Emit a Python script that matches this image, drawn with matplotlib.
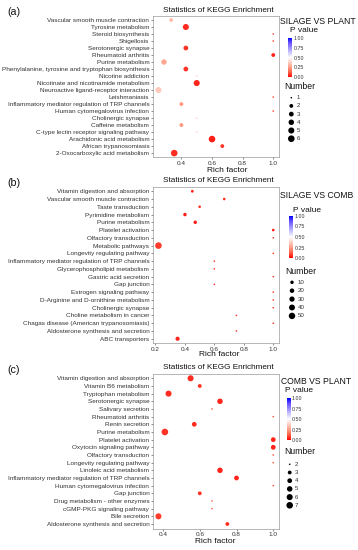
import numpy as np
import matplotlib
matplotlib.use("Agg")
import matplotlib.pyplot as plt
from matplotlib.colors import LinearSegmentedColormap, Normalize
from matplotlib.cm import ScalarMappable

plt.rcParams["font.family"] = ["Liberation Sans", "DejaVu Sans"]

W, H = 358, 550

# (a) SILAGE VS PLANT
A_TERMS = [
	"Vascular smooth muscle contraction",
	"Tyrosine metabolism",
	"Steroid biosynthesis",
	"Shigellosis",
	"Serotonergic synapse",
	"Rheumatoid arthritis",
	"Purine metabolism",
	"Phenylalanine, tyrosine and tryptophan biosynthesis",
	"Nicotine addiction",
	"Nicotinate and nicotinamide metabolism",
	"Neuroactive ligand-receptor interaction",
	"Leishmaniasis",
	"Inflammatory mediator regulation of TRP channels",
	"Human cytomegalovirus infection",
	"Cholinergic synapse",
	"Caffeine metabolism",
	"C-type lectin receptor signaling pathway",
	"Arachidonic acid metabolism",
	"African trypanosomiasis",
	"2-Oxocarboxylic acid metabolism",
]
A_RICH = [0.333, 0.429, 1.0, 1.0, 0.429, 1.0, 0.286, 0.429, 0.5, 0.5,
	0.25, 1.0, 0.4, 1.0, 0.5, 0.4, 0.5, 0.6, 0.667, 0.353]
A_NUM = [2, 5, 1, 1, 3, 2, 4, 3, 1, 5, 5, 1, 2, 1, 1, 2, 1, 6, 2, 6]
A_PVAL = [0.33, 0.06, 0.08, 0.08, 0.07, 0.05, 0.28, 0.07, 0.38, 0.05,
	0.36, 0.08, 0.24, 0.08, 0.38, 0.24, 0.38, 0.04, 0.07, 0.06]
A_SIZE_BREAKS = [1, 2, 3, 4, 5, 6]

# (b) SILAGE VS COMB
B_TERMS = [
	"Vitamin digestion and absorption",
	"Vascular smooth muscle contraction",
	"Taste transduction",
	"Pyrimidine metabolism",
	"Purine metabolism",
	"Platelet activation",
	"Olfactory transduction",
	"Metabolic pathways",
	"Longevity regulating pathway",
	"Inflammatory mediator regulation of TRP channels",
	"Glycerophospholipid metabolism",
	"Gastric acid secretion",
	"Gap junction",
	"Estrogen signaling pathway",
	"D-Arginine and D-ornithine metabolism",
	"Cholinergic synapse",
	"Choline metabolism in cancer",
	"Chagas disease (American trypanosomiasis)",
	"Aldosterone synthesis and secretion",
	"ABC transporters",
]
B_RICH = [0.45, 0.667, 0.5, 0.4, 0.47, 1.0, 1.0, 0.22, 1.0, 0.6,
	0.6, 1.0, 0.6, 1.0, 1.0, 1.0, 0.75, 1.0, 0.75, 0.35]
B_NUM = [6, 5, 5, 10, 10, 5, 3, 53, 3, 3, 3, 3, 3, 3, 3, 3, 3, 3, 3, 16]
B_PVAL = [0.05, 0.06, 0.06, 0.04, 0.04, 0.03, 0.06, 0.08, 0.06, 0.06,
	0.06, 0.06, 0.06, 0.06, 0.06, 0.06, 0.06, 0.06, 0.06, 0.05]
B_SIZE_BREAKS = [10, 20, 30, 40, 50]

# (c) COMB VS PLANT
C_TERMS = [
	"Vitamin digestion and absorption",
	"Vitamin B6 metabolism",
	"Tryptophan metabolism",
	"Serotonergic synapse",
	"Salivary secretion",
	"Rheumatoid arthritis",
	"Renin secretion",
	"Purine metabolism",
	"Platelet activation",
	"Oxytocin signaling pathway",
	"Olfactory transduction",
	"Longevity regulating pathway",
	"Linoleic acid metabolism",
	"Inflammatory mediator regulation of TRP channels",
	"Human cytomegalovirus infection",
	"Gap junction",
	"Drug metabolism - other enzymes",
	"cGMP-PKG signaling pathway",
	"Bile secretion",
	"Aldosterone synthesis and secretion",
]
C_RICH = [0.55, 0.6, 0.43, 0.71, 0.667, 1.0, 0.57, 0.41, 1.0, 1.0,
	1.0, 1.0, 0.71, 0.8, 1.0, 0.6, 0.667, 0.667, 0.375, 0.75]
C_NUM = [6, 3, 6, 5, 2, 2, 4, 7, 4, 4, 2, 2, 5, 4, 2, 3, 2, 2, 6, 3]
C_PVAL = [0.06, 0.07, 0.06, 0.05, 0.12, 0.1, 0.06, 0.07, 0.05, 0.05,
	0.1, 0.1, 0.05, 0.05, 0.1, 0.07, 0.12, 0.12, 0.08, 0.06]
C_SIZE_BREAKS = [2, 3, 4, 5, 6, 7]

P_TICKS = [0.0, 0.25, 0.5, 0.75, 1.0]

CMAP = LinearSegmentedColormap.from_list("pval", [
	(0.0, "#FF0000"), (0.125, "#FF5F46"), (0.25, "#FF9C85"), (0.375, "#FFCFC3"),
	(0.5, "#FFFFFF"), (0.625, "#CCC8FF"), (0.75, "#9A8DFF"), (0.875, "#6A50FF"),
	(1.0, "#0000FF"),
])
NORM = Normalize(0, 1)

D_MIN, D_MAX = 1.6, 6.6  # dot diameters in pixels
TXT = "#333333"


def _rect(fig, left, top, right, bottom):
	return fig.add_axes([left / W, 1 - bottom / H, (right - left) / W, (bottom - top) / H])


def _marker_area(num, lo, hi):
	t = np.clip((np.asarray(num, float) - lo) / (hi - lo), 0, 1)
	d = D_MIN + (D_MAX - D_MIN) * np.sqrt(t)
	return (d * 72 / 100) ** 2


def _panel(fig, overlay, box, terms, rich, num, pval, ticks, lo, hi):
	ax = _rect(fig, *box)
	y = np.arange(len(terms))
	ax.scatter(rich, y, s=_marker_area(num, lo, hi), c=pval, cmap=CMAP, norm=NORM,
		linewidths=0, zorder=3)
	span = max(rich) - min(rich)
	ax.set_xlim(min(rich) - 0.05 * span, max(rich) + 0.05 * span)
	ax.set_ylim(len(terms) - 0.4, -0.6)
	ax.set_yticks(y)
	ax.set_yticklabels(terms)
	ax.set_xticks(ticks)
	ax.set_xticklabels([f"{t:.1f}" for t in ticks])
	ax.tick_params(axis="both", length=1.6, width=0.4, color="#333333", pad=0.8,
		labelsize=4.6, labelcolor=TXT)
	for sp in ax.spines.values():
		sp.set_color("#9a9a9a")
		sp.set_linewidth(0.5)
	return ax


def _legend(fig, overlay, title, title_xy, pv_xy, cbar_box, num_xy, dot_x, lab_x,
		y0, step, breaks, lo, hi):
	overlay.text(*title_xy, title, fontsize=6.2, ha="left", va="center", color="#111111")
	overlay.text(*pv_xy, "P value", fontsize=6.0, ha="left", va="center", color="#111111")
	cax = _rect(fig, *cbar_box)
	cb = fig.colorbar(ScalarMappable(norm=NORM, cmap=CMAP), cax=cax)
	cb.outline.set_visible(False)
	cb.set_ticks(P_TICKS)
	cb.set_ticklabels([f"{t:.2f}" for t in P_TICKS])
	cax.tick_params(length=0, pad=1.0, labelsize=3.8, labelcolor=TXT)
	overlay.text(*num_xy, "Number", fontsize=6.2, ha="left", va="center", color="#111111")
	ys = [y0 + i * step for i in range(len(breaks))]
	overlay.scatter([dot_x] * len(breaks), ys, s=_marker_area(breaks, lo, hi),
		color="black", linewidths=0)
	for yy, b in zip(ys, breaks):
		overlay.text(lab_x, yy, str(b), fontsize=4.4, ha="left", va="center", color=TXT)


def main() -> None:
	fig = plt.figure(figsize=(W / 100, H / 100), dpi=100)
	overlay = fig.add_axes([0, 0, 1, 1])
	overlay.set_xlim(0, W)
	overlay.set_ylim(H, 0)
	overlay.axis("off")

	panels = [
		("(a)", (152.7, 15.8, 279, 157.3), A_TERMS, A_RICH, A_NUM, A_PVAL,
			[0.4, 0.6, 0.8, 1.0], A_SIZE_BREAKS, 10, 171, 227.7,
			"SILAGE VS PLANT", (279.5, 21.7), (289.5, 31), (288, 37.7, 292, 77.3),
			(284.7, 86.7), 291.3, 296.5, 97.7, 8.2),
		("(b)", (152.7, 186.6, 279, 343.4), B_TERMS, B_RICH, B_NUM, B_PVAL,
			[0.2, 0.4, 0.6, 0.8, 1.0], B_SIZE_BREAKS, 181, 355, 219,
			"SILAGE VS COMB", (279.5, 196), (293, 210), (289, 216, 293, 258),
			(285.5, 271), 292, 298, 282.3, 8.4),
		("(c)", (152.7, 373.7, 279, 528.6), C_TERMS, C_RICH, C_NUM, C_PVAL,
			[0.4, 0.6, 0.8, 1.0], C_SIZE_BREAKS, 367.3, 541.7, 215.5,
			"COMB VS PLANT", (280.7, 381.7), (285, 390.7), (286.5, 398.3, 290.5, 440),
			(284.5, 451.7), 289.7, 294.7, 464.3, 8.2),
	]

	for (tag, box, terms, rich, num, pval, ticks, breaks, title_y, xlab_y, xlab_x,
			leg_title, leg_xy, pv_xy, cbar_box, num_xy, dot_x, lab_x, y0, step) in panels:
		lo, hi = min(num), max(num)
		_panel(fig, overlay, box, terms, rich, num, pval, ticks, lo, hi)
		cx = (box[0] + box[2]) / 2
		overlay.text(cx + 2, title_y, "Statistics of KEGG Enrichment", fontsize=5.9,
			ha="center", va="center", color="#111111")
		overlay.text(xlab_x, xlab_y, "Rich factor", fontsize=6.0, ha="center",
			va="center", color="#111111")
		overlay.text(7.5, box[1] - 4, tag, fontsize=7.7, ha="left", va="center",
			color="#111111")
		_legend(fig, overlay, leg_title, leg_xy, pv_xy, cbar_box, num_xy, dot_x, lab_x,
			y0, step, breaks, lo, hi)

	fig.savefig("out.png", dpi=100)
	plt.close(fig)


if __name__ == "__main__":
	main()
